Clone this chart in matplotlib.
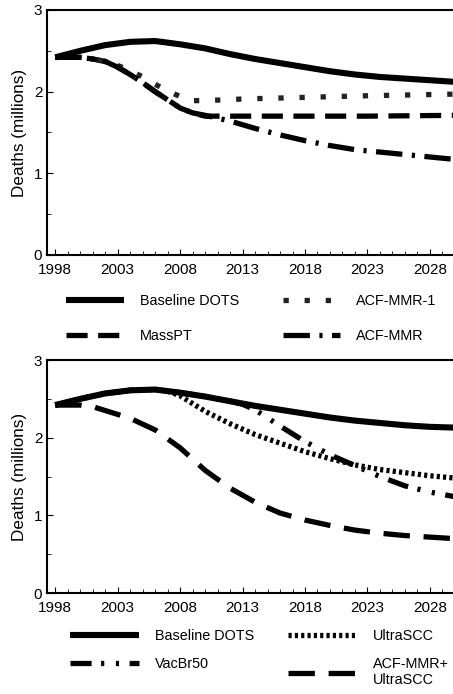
import numpy as np
import matplotlib.pyplot as plt
from matplotlib.ticker import MultipleLocator

plt.rcParams['font.family'] = ['Liberation Sans', 'DejaVu Sans']

# top panel
years_a = [1998, 2000, 2002, 2004, 2006, 2008, 2010, 2012, 2014, 2016, 2018, 2020, 2022, 2024, 2026, 2028, 2030]
baseline_a = [2.42, 2.50, 2.57, 2.61, 2.62, 2.58, 2.53, 2.46, 2.40, 2.35, 2.30, 2.25, 2.21, 2.18, 2.16, 2.14, 2.12]

years_mmr1 = [1998, 2000, 2001, 2002, 2003, 2004, 2005, 2006, 2007, 2008, 2009, 2010, 2013, 2018, 2023, 2030]
acf_mmr1 = [2.42, 2.42, 2.40, 2.37, 2.32, 2.26, 2.18, 2.09, 2.01, 1.94, 1.89, 1.89, 1.91, 1.93, 1.95, 1.97]

years_mass = [1998, 2000, 2001, 2002, 2003, 2004, 2005, 2006, 2007, 2008, 2009, 2010, 2013, 2018, 2023, 2030]
mass_pt = [2.42, 2.42, 2.40, 2.37, 2.30, 2.21, 2.11, 2.00, 1.90, 1.80, 1.74, 1.70, 1.70, 1.70, 1.70, 1.71]

years_acf = [1998, 2000, 2001, 2002, 2003, 2004, 2005, 2006, 2007, 2008, 2009, 2010, 2012, 2014, 2016, 2018,
             2020, 2022, 2024, 2026, 2028, 2030]
acf_mmr = [2.42, 2.42, 2.40, 2.37, 2.30, 2.21, 2.11, 2.00, 1.90, 1.80, 1.74, 1.71, 1.64, 1.55, 1.47, 1.40,
           1.34, 1.29, 1.26, 1.23, 1.20, 1.17]

# bottom panel
years_b = [1998, 2000, 2002, 2004, 2006, 2008, 2010, 2012, 2014, 2016, 2018, 2020, 2022, 2024, 2026, 2028, 2030]
baseline_b = [2.42, 2.50, 2.57, 2.61, 2.62, 2.58, 2.53, 2.47, 2.41, 2.36, 2.31, 2.26, 2.22, 2.19, 2.16, 2.14, 2.13]

years_ultra = [1998, 2000, 2002, 2004, 2006, 2007, 2008, 2010, 2012, 2014, 2016, 2018, 2020, 2022, 2024, 2026, 2028, 2030]
ultra_scc = [2.42, 2.50, 2.57, 2.61, 2.62, 2.60, 2.54, 2.34, 2.18, 2.04, 1.93, 1.82, 1.73, 1.65, 1.59, 1.55, 1.51, 1.48]

years_vac = [1998, 2000, 2002, 2004, 2006, 2008, 2010, 2012, 2013, 2014, 2016, 2018, 2020, 2022, 2024, 2026, 2028, 2030]
vac_br50 = [2.42, 2.50, 2.57, 2.61, 2.62, 2.58, 2.53, 2.47, 2.43, 2.36, 2.15, 1.95, 1.78, 1.64, 1.50, 1.38, 1.30, 1.24]

years_comb = [1998, 2000, 2001, 2002, 2004, 2006, 2008, 2010, 2012, 2014, 2016, 2018, 2020, 2022, 2024, 2026, 2028, 2030]
acf_ultra = [2.42, 2.42, 2.40, 2.35, 2.25, 2.10, 1.87, 1.58, 1.35, 1.17, 1.03, 0.94, 0.87, 0.81, 0.77, 0.74, 0.72, 0.70]

xticks = [1998, 2003, 2008, 2013, 2018, 2023, 2028]

fig = plt.figure(figsize=(4.53, 6.94), dpi=100)
ax1 = fig.add_axes([0.104, 0.6326, 0.896, 0.353])
ax2 = fig.add_axes([0.104, 0.1455, 0.896, 0.3357])

lw = 3.8
s_mmr1 = (0, (1, 3))
s_mass = (0, (4, 2))
s_acf = (0, (5, 1.8, 0.6, 1.8))
s_ultra = (0, (0.6, 0.6))
s_vac = (0, (4, 1.8, 0.6, 2.2, 0.6, 2))
s_comb = (0, (5, 2.6))

ax1.plot(years_a, baseline_a, color='black', lw=4.4, solid_capstyle='butt', label='Baseline DOTS')
ax1.plot(years_mass, mass_pt, color='black', lw=lw, ls=s_mass, label='MassPT')
ax1.plot(years_mmr1, acf_mmr1, color='#222222', lw=lw, ls=s_mmr1, label='ACF-MMR-1')
ax1.plot(years_acf, acf_mmr, color='black', lw=lw, ls=s_acf, label='ACF-MMR')

ax2.plot(years_b, baseline_b, color='black', lw=4.4, solid_capstyle='butt', label='Baseline DOTS')
ax2.plot(years_vac, vac_br50, color='black', lw=lw, ls=s_vac, label='VacBr50')
ax2.plot(years_ultra, ultra_scc, color='black', lw=lw, ls=s_ultra, label='UltraSCC')
ax2.plot(years_comb, acf_ultra, color='black', lw=lw, ls=s_comb, label='ACF-MMR+\nUltraSCC')

for ax in (ax1, ax2):
    ax.set_xlim(1997.35, 2029.85)
    ax.set_ylim(0, 3)
    ax.set_xticks(xticks)
    ax.set_yticks([0, 1, 2, 3])
    ax.xaxis.set_minor_locator(MultipleLocator(1))
    ax.yaxis.set_minor_locator(MultipleLocator(0.5))
    ax.tick_params(axis='both', which='both', direction='in', labelsize=11)
    ax.tick_params(axis='both', which='major', length=4, width=0.8)
    ax.tick_params(axis='both', which='minor', length=3, width=0.6)
    ax.tick_params(axis='x', pad=6)
    ax.spines['right'].set_visible(False)
    ax.spines['top'].set_linewidth(1.5)
    ax.spines['left'].set_linewidth(1.5)
    ax.spines['bottom'].set_linewidth(1.5)
    ax.set_ylabel('Deaths (millions)', fontsize=12.3, labelpad=5)

h1, l1 = ax1.get_legend_handles_labels()
fig.legend(h1, l1, loc='center', bbox_to_anchor=(0.555, 0.541), ncol=2, frameon=False,
           fontsize=10.4, handlelength=4.0, handletextpad=1.1, columnspacing=3.0, labelspacing=1.45)

h2, l2 = ax2.get_legend_handles_labels()
fig.legend(h2, l2, loc='center', bbox_to_anchor=(0.573, 0.052), ncol=2, frameon=False,
           fontsize=10.4, handlelength=4.8, handletextpad=1.1, columnspacing=2.3, labelspacing=1.0)

fig.savefig('out.png', dpi=100)
